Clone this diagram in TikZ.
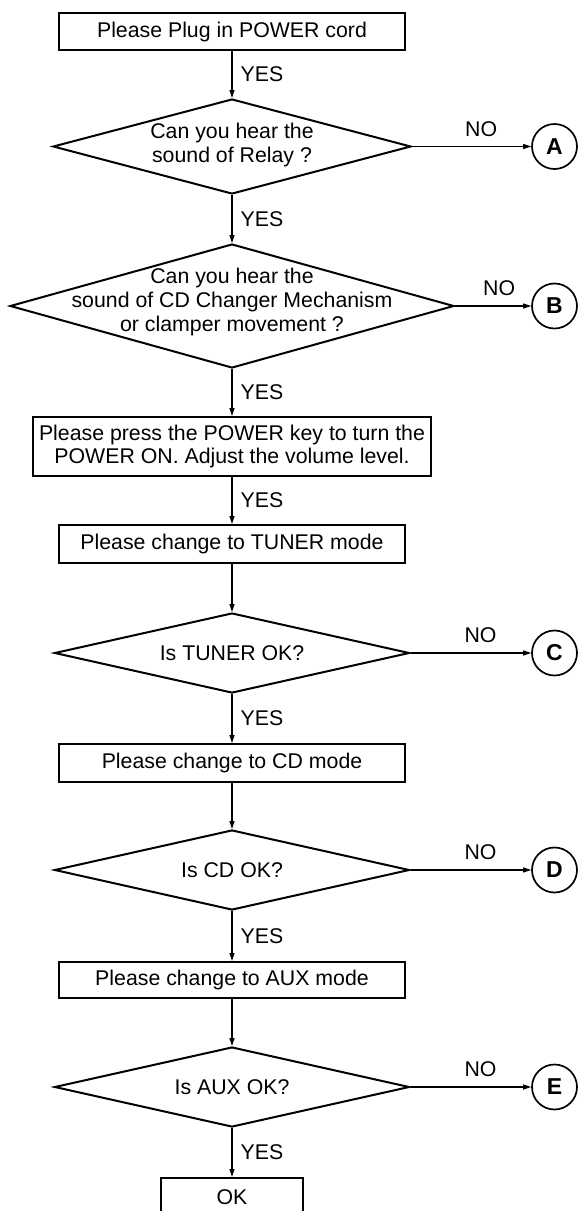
\documentclass[tikz,border=0pt]{standalone}
\usepackage{fontspec}
\setmainfont{Liberation Sans}
\usetikzlibrary{shapes.geometric,arrows.meta}
\begin{document}
\begin{tikzpicture}[x=1pt,y=-1pt,
  box/.style={draw,line width=2pt,rectangle,inner sep=0pt,minimum width=346pt,minimum height=37pt,font=\fontsize{21.3}{23.5}\selectfont,align=center},
  dec/.style={draw,line width=2pt,diamond,inner sep=0pt},
  txt/.style={font=\fontsize{21.3}{24}\selectfont,align=center,inner sep=0pt},
  conn/.style={draw,circle,line width=1.7pt,minimum size=45pt,inner sep=0pt,font=\fontsize{23}{23}\selectfont\bfseries},
  arr/.style={line width=1.2pt,-{Triangle[length=8pt,width=5pt]}},
  yes/.style={right,xshift=8pt,inner sep=0pt,font=\fontsize{21.3}{24}\selectfont},
  nolab/.style={pos=0.58,above=9.5pt,inner sep=0pt,font=\fontsize{21.3}{24}\selectfont}
]
\useasboundingbox (0,0) rectangle (579,1211);

% boxes
\node[box] (b1) at (232,31.5) {Please Plug in POWER cord};
\node[box,minimum width=398pt,minimum height=59pt] (b3) at (232,446.5) {Please press the POWER key to turn the\\POWER ON. Adjust the volume level.};
\node[box,minimum height=38pt] (b4) at (232,544) {Please change to TUNER mode};
\node[box,minimum height=38pt] (b5) at (232,763) {Please change to CD mode};
\node[box,minimum height=36pt] (b6) at (232,980) {Please change to AUX mode};
\node[box,minimum width=142pt,minimum height=38pt] (ok) at (232,1197) {OK};

% decisions
\node[dec,minimum width=358pt,minimum height=95pt] (d1) at (232,146.5) {};
\node[txt] (t1) at (232,145) {Can you hear the\\sound of Relay ?};
\node[dec,minimum width=444pt,minimum height=124pt] (d2) at (232,306) {};
\node[txt] (t2) at (232,302) {Can you hear the\\sound of CD Changer Mechanism\\or clamper movement ?};
\node[dec,minimum width=355pt,minimum height=80pt] (d3) at (232,653) {};
\node[txt] (t3) at (232,653) {Is TUNER OK?};
\node[dec,minimum width=355pt,minimum height=80pt] (d4) at (232,870) {};
\node[txt] (t4) at (232,870) {Is CD OK?};
\node[dec,minimum width=355pt,minimum height=80pt] (d5) at (232,1087) {};
\node[txt] (t5) at (232,1087) {Is AUX OK?};

% connectors (off-page)
\node[conn] (cA) at (554.5,146.5) {A};
\node[conn] (cB) at (554.5,306) {B};
\node[conn] (cC) at (554.5,653) {C};
\node[conn] (cD) at (554.5,870) {D};
\node[conn] (cE) at (554.5,1087) {E};

% main flow
\draw[arr] (b1) -- node[yes]{YES} (d1);
\draw[arr] (d1) -- node[yes]{YES} (d2);
\draw[arr] (d2) -- node[yes]{YES} (b3);
\draw[arr] (b3) -- node[yes]{YES} (b4);
\draw[arr] (b4) -- (d3);
\draw[arr] (d3) -- node[yes]{YES} (b5);
\draw[arr] (b5) -- (d4);
\draw[arr] (d4) -- node[yes]{YES} (b6);
\draw[arr] (b6) -- (d5);
\draw[arr] (d5) -- node[yes]{YES} (ok);

% NO branches
\draw[arr] (d1.east) -- node[nolab]{NO} (cA);
\draw[arr] (d2.east) -- node[nolab]{NO} (cB);
\draw[arr] (d3.east) -- node[nolab]{NO} (cC);
\draw[arr] (d4.east) -- node[nolab]{NO} (cD);
\draw[arr] (d5.east) -- node[nolab]{NO} (cE);
\end{tikzpicture}
\end{document}
